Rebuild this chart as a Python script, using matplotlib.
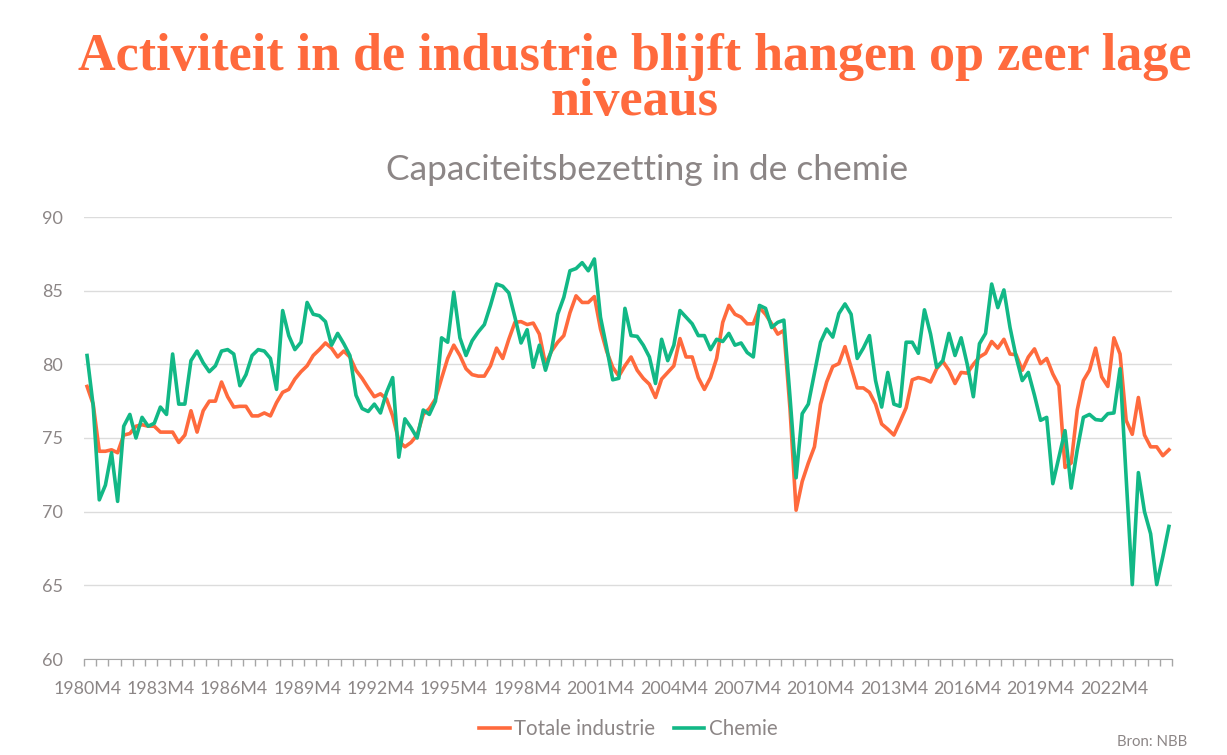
import numpy as np
import matplotlib
matplotlib.use('Agg')
import matplotlib.pyplot as plt
from matplotlib.ticker import FixedLocator

# Kwartaaldata 1980M4 - 2024M7
totale_industrie = [
    78.5, 77.3, 74.1, 74.1, 74.2, 74.0, 75.2, 75.3, 75.8, 75.9,
    75.8, 75.8, 75.4, 75.4, 75.4, 74.7, 75.2, 76.85, 75.4, 76.85,
    77.5, 77.5, 78.8, 77.8, 77.1, 77.15, 77.15, 76.5, 76.5, 76.7,
    76.5, 77.4, 78.1, 78.3, 79.0, 79.5, 79.9, 80.6, 81.0, 81.45,
    81.1, 80.5, 80.9, 80.5, 79.6, 79.05, 78.4, 77.8, 78.0, 77.65,
    76.5, 74.8, 74.4, 74.7, 75.2, 76.6, 77.0, 77.65, 79.05, 80.4,
    81.3, 80.6, 79.7, 79.3, 79.2, 79.2, 79.9, 81.1, 80.4, 81.7,
    82.85, 82.9, 82.7, 82.8, 82.05, 80.0, 80.9, 81.5, 81.95, 83.5,
    84.65, 84.2, 84.2, 84.6, 82.4, 80.9, 79.8, 79.2, 79.9, 80.5,
    79.6, 79.05, 78.65, 77.75, 79.0, 79.45, 79.9, 81.75, 80.5, 80.5,
    79.1, 78.3, 79.1, 80.4, 82.85, 84.0, 83.4, 83.2, 82.75, 82.75,
    83.85, 83.4, 82.75, 82.05, 82.3, 77.0, 70.1, 72.05, 73.3, 74.4,
    77.3, 78.8, 79.85, 80.05, 81.2, 79.8, 78.4, 78.4, 78.1, 77.3,
    75.95, 75.6, 75.2, 76.1, 77.05, 78.95, 79.1, 79.0, 78.8, 79.7,
    80.2, 79.6, 78.7, 79.45, 79.4, 80.0, 80.5, 80.75, 81.55, 81.1,
    81.7, 80.7, 80.65, 79.6, 80.5, 81.05, 80.05, 80.4, 79.35, 78.55,
    73.0, 73.3, 76.9, 78.9, 79.6, 81.1, 79.15, 78.5, 81.8, 80.7,
    76.2, 75.25, 77.75, 75.2, 74.4, 74.4, 73.8, 74.2,
]
chemie = [
    80.6, 77.2, 70.8, 71.8, 74.0, 70.7, 75.8, 76.6, 75.0, 76.4,
    75.8, 76.0, 77.1, 76.6, 80.7, 77.3, 77.3, 80.25, 80.9, 80.1,
    79.5, 79.9, 80.9, 81.0, 80.7, 78.55, 79.3, 80.6, 81.0, 80.9,
    80.4, 78.3, 83.65, 81.95, 81.0, 81.5, 84.2, 83.4, 83.3, 82.9,
    81.3, 82.1, 81.4, 80.6, 77.9, 77.0, 76.8, 77.3, 76.7, 78.1,
    79.1, 73.7, 76.3, 75.7, 75.0, 76.9, 76.6, 77.5, 81.8, 81.5,
    84.9, 81.8, 80.6, 81.6, 82.2, 82.7, 84.0, 85.45, 85.3, 84.85,
    83.2, 81.45, 82.35, 79.8, 81.3, 79.6, 81.0, 83.4, 84.55, 86.35,
    86.5, 86.9, 86.35, 87.15, 83.2, 81.15, 78.95, 79.05, 83.8, 81.95,
    81.9, 81.3, 80.5, 78.7, 81.7, 80.25, 81.3, 83.65, 83.2, 82.75,
    81.95, 81.95, 81.0, 81.7, 81.55, 82.1, 81.3, 81.45, 80.8, 80.5,
    84.0, 83.8, 82.5, 82.85, 83.0, 77.8, 72.3, 76.65, 77.3, 79.4,
    81.5, 82.4, 81.85, 83.45, 84.1, 83.4, 80.4, 81.1, 81.95, 78.9,
    77.1, 79.45, 77.3, 77.15, 81.5, 81.5, 80.75, 83.7, 82.05, 79.8,
    80.25, 82.1, 80.6, 81.8, 80.0, 77.8, 81.4, 82.1, 85.45, 83.85,
    85.05, 82.5, 80.5, 78.9, 79.45, 77.9, 76.2, 76.4, 71.9, 73.7,
    75.5, 71.6, 74.2, 76.4, 76.6, 76.25, 76.2, 76.65, 76.7, 79.7,
    72.3, 65.05, 72.65, 70.0, 68.5, 65.05, 66.95, 69.0,
]
periodes = [f'{1980 + (i + 1) // 4}M{((i + 1) % 4) * 3 + 1}' for i in range(len(chemie))]
label_jaren = list(range(1980, 2023, 3))
y_ticks = [60, 65, 70, 75, 80, 85, 90]

oranje = '#FF6A3D'
groen = '#12B886'
grijs = '#8C8686'

fig = plt.figure(figsize=(12.27, 7.55), dpi=100)
ax = fig.add_axes([84 / 1227, 1 - 659 / 755, (1172 - 84) / 1227, (659 - 217) / 755])

x = np.arange(len(chemie))
ax.plot(x, totale_industrie, color=oranje, lw=2.6, label='Totale industrie', solid_joinstyle='round')
ax.plot(x, chemie, color=groen, lw=2.6, label='Chemie', solid_joinstyle='round')

ax.set_xlim(-0.5, len(chemie) - 0.5)
ax.set_ylim(60, 90)
ax.set_yticks(y_ticks)
ax.set_yticklabels([str(v) for v in y_ticks], family='Lato', fontsize=13, color=grijs)
ax.tick_params(axis='y', length=0, pad=15)
ax.grid(axis='y', color='#DCDCDC', lw=1)
ax.set_axisbelow(True)

label_pos = [periodes.index(f'{j}M4') for j in label_jaren]
ax.set_xticks(label_pos)
ax.set_xticklabels([f'{j}M4' for j in label_jaren], family='Lato', fontsize=12.8, color=grijs)
ax.xaxis.set_minor_locator(FixedLocator(np.arange(-0.5, len(chemie), 2)))
ax.tick_params(axis='x', which='major', length=0, pad=16)
ax.tick_params(axis='x', which='minor', length=5, color='#A6A6A6', width=1)

for s in ['top', 'right', 'left']:
    ax.spines[s].set_visible(False)
ax.spines['bottom'].set_color('#A6A6A6')

# titel in twee regels
fig.text(0.517, 1 - 57 / 755, 'Activiteit in de industrie blijft hangen op zeer lage',
         ha='center', va='center', family='Liberation Serif', weight='bold',
         fontsize=37.5, color=oranje)
fig.text(0.517, 1 - 102 / 755, 'niveaus',
         ha='center', va='center', family='Liberation Serif', weight='bold',
         fontsize=37.5, color=oranje)
fig.text(0.527, 1 - 170 / 755, 'Capaciteitsbezetting in de chemie', ha='center', va='center',
         family='Lato', fontsize=25.5, color=grijs)

fig.legend(loc='center', bbox_to_anchor=(0.512, 1 - 729 / 755), ncol=2, frameon=False,
           prop={'family': 'Lato', 'size': 14.8}, labelcolor=grijs,
           handlelength=1.5, handletextpad=0.2, columnspacing=0.9)
fig.text(0.968, 0.017, 'Bron: NBB', ha='right', va='center', family='Lato',
         fontsize=10.8, color=grijs)

fig.savefig('out.png', dpi=100)
